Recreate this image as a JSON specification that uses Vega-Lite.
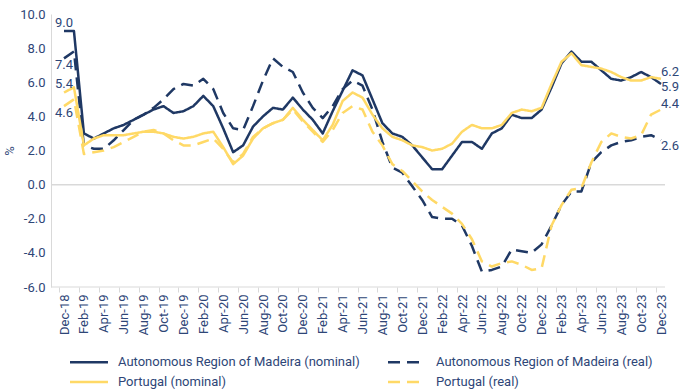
{
  "$schema": "https://vega.github.io/schema/vega-lite/v6.json",
  "width": 614,
  "height": 273,
  "autosize": {"type": "none"},
  "padding": {"left": 51, "top": 14, "right": 15, "bottom": 102},
  "background": "#ffffff",
  "config": {
    "view": {"stroke": null},
    "font": "Roboto",
    "axis": {
      "labelFont": "Roboto",
      "titleFont": "Roboto",
      "labelColor": "#2e4677",
      "titleColor": "#2e4677",
      "labelFontSize": 13,
      "domainColor": "#d9d9d9",
      "tickColor": "#d9d9d9"
    },
    "axisY": {"labelOverlap": false},
    "legend": {
      "orient": "none",
      "legendX": 17.5,
      "legendY": 340.5,
      "direction": "horizontal",
      "columns": 2,
      "symbolType": "M-1,0H5.33",
      "symbolSize": 144,
      "symbolStrokeWidth": 2.5,
      "labelOffset": 34.5,
      "labelFont": "Roboto",
      "labelFontSize": 13,
      "labelColor": "#2e4677",
      "labelLimit": 400,
      "columnPadding": 22,
      "rowPadding": 5,
      "padding": 0
    }
  },
  "layer": [
    {
      "data": {"values": [{}]},
      "mark": {"type": "rule", "color": "#d9d9d9", "strokeWidth": 1.5},
      "encoding": {
        "y": {
          "datum": 0,
          "type": "quantitative",
          "scale": {"domain": [-6, 10], "nice": false, "zero": false},
          "axis": {
            "title": "%",
            "titleFontSize": 13,
            "titleFontWeight": "normal",
            "titlePadding": 3,
            "values": [-6, -4, -2, 0, 2, 4, 6, 8, 10],
            "labelOverlap": false,
            "labelExpr": "replace(format(datum.value, '.1f'), '\u2212', '-')",
            "ticks": false,
            "tickSize": 0,
            "labelPadding": 6,
            "grid": false
          }
        }
      }
    },
    {
      "data": {"values": [{}]},
      "mark": {"type": "rule", "color": "#d9d9d9", "strokeWidth": 1},
      "encoding": {
        "y": {
          "datum": -6,
          "type": "quantitative",
          "axis": {
            "title": "%",
            "titleFontSize": 13,
            "titleFontWeight": "normal",
            "titlePadding": 3,
            "values": [-6, -4, -2, 0, 2, 4, 6, 8, 10],
            "labelOverlap": false,
            "labelExpr": "replace(format(datum.value, '.1f'), '\u2212', '-')",
            "ticks": false,
            "tickSize": 0,
            "labelPadding": 6,
            "grid": false
          }
        }
      }
    },
    {
      "data": {
        "values": [
          {"d": "2018-12", "mn": 9.0, "mr": 7.4, "pn": 5.4, "pr": 4.6},
          {"d": "2019-01", "mn": 9.0, "mr": 7.8, "pn": 5.7, "pr": 5.0},
          {"d": "2019-02", "mn": 3.0, "mr": 2.3, "pn": 2.3, "pr": 1.8},
          {"d": "2019-03", "mn": 2.7, "mr": 2.1, "pn": 2.7, "pr": 1.9},
          {"d": "2019-04", "mn": 3.0, "mr": 2.1, "pn": 2.9, "pr": 2.0},
          {"d": "2019-05", "mn": 3.3, "mr": 2.6, "pn": 2.9, "pr": 2.2},
          {"d": "2019-06", "mn": 3.5, "mr": 3.2, "pn": 2.9, "pr": 2.5},
          {"d": "2019-07", "mn": 3.8, "mr": 3.8, "pn": 3.0, "pr": 2.8},
          {"d": "2019-08", "mn": 4.1, "mr": 4.1, "pn": 3.1, "pr": 3.1},
          {"d": "2019-09", "mn": 4.4, "mr": 4.5, "pn": 3.1, "pr": 3.2},
          {"d": "2019-10", "mn": 4.6, "mr": 5.0, "pn": 3.0, "pr": 3.0},
          {"d": "2019-11", "mn": 4.2, "mr": 5.6, "pn": 2.8, "pr": 2.6},
          {"d": "2019-12", "mn": 4.3, "mr": 5.9, "pn": 2.7, "pr": 2.3},
          {"d": "2020-01", "mn": 4.6, "mr": 5.8, "pn": 2.8, "pr": 2.3},
          {"d": "2020-02", "mn": 5.2, "mr": 6.2, "pn": 3.0, "pr": 2.5},
          {"d": "2020-03", "mn": 4.6, "mr": 5.6, "pn": 3.1, "pr": 2.7},
          {"d": "2020-04", "mn": 3.3, "mr": 4.2, "pn": 2.2, "pr": 2.1},
          {"d": "2020-05", "mn": 1.9, "mr": 3.3, "pn": 1.2, "pr": 1.3},
          {"d": "2020-06", "mn": 2.3, "mr": 3.2, "pn": 1.7, "pr": 1.8},
          {"d": "2020-07", "mn": 3.4, "mr": 4.6, "pn": 2.7, "pr": 2.8},
          {"d": "2020-08", "mn": 4.0, "mr": 6.1, "pn": 3.3, "pr": 3.3},
          {"d": "2020-09", "mn": 4.5, "mr": 7.4, "pn": 3.6, "pr": 3.6},
          {"d": "2020-10", "mn": 4.4, "mr": 6.9, "pn": 3.8, "pr": 3.8},
          {"d": "2020-11", "mn": 5.1, "mr": 6.6, "pn": 4.5, "pr": 4.4},
          {"d": "2020-12", "mn": 4.4, "mr": 5.4, "pn": 3.8, "pr": 3.7},
          {"d": "2021-01", "mn": 3.8, "mr": 4.5, "pn": 3.2, "pr": 3.1},
          {"d": "2021-02", "mn": 3.0, "mr": 3.9, "pn": 2.6, "pr": 2.5},
          {"d": "2021-03", "mn": 4.3, "mr": 4.6, "pn": 3.5, "pr": 3.2},
          {"d": "2021-04", "mn": 5.5, "mr": 5.6, "pn": 4.9, "pr": 4.2},
          {"d": "2021-05", "mn": 6.7, "mr": 6.1, "pn": 5.4, "pr": 4.6},
          {"d": "2021-06", "mn": 6.4, "mr": 5.8, "pn": 5.1, "pr": 4.4},
          {"d": "2021-07", "mn": 5.0, "mr": 4.4, "pn": 4.1, "pr": 3.1},
          {"d": "2021-08", "mn": 3.6, "mr": 2.5, "pn": 3.3, "pr": 2.3},
          {"d": "2021-09", "mn": 3.0, "mr": 1.0, "pn": 2.8, "pr": 1.2},
          {"d": "2021-10", "mn": 2.8, "mr": 0.7, "pn": 2.6, "pr": 0.8},
          {"d": "2021-11", "mn": 2.3, "mr": -0.1, "pn": 2.3, "pr": 0.2},
          {"d": "2021-12", "mn": 1.6, "mr": -0.9, "pn": 2.2, "pr": -0.4},
          {"d": "2022-01", "mn": 0.9, "mr": -1.9, "pn": 2.0, "pr": -0.9},
          {"d": "2022-02", "mn": 0.9, "mr": -2.0, "pn": 2.1, "pr": -1.3},
          {"d": "2022-03", "mn": 1.7, "mr": -2.0, "pn": 2.4, "pr": -1.7},
          {"d": "2022-04", "mn": 2.5, "mr": -2.4, "pn": 3.1, "pr": -2.3},
          {"d": "2022-05", "mn": 2.5, "mr": -3.6, "pn": 3.5, "pr": -3.2},
          {"d": "2022-06", "mn": 2.1, "mr": -5.1, "pn": 3.3, "pr": -4.5},
          {"d": "2022-07", "mn": 3.0, "mr": -5.0, "pn": 3.3, "pr": -4.8},
          {"d": "2022-08", "mn": 3.3, "mr": -4.8, "pn": 3.5, "pr": -4.6},
          {"d": "2022-09", "mn": 4.1, "mr": -3.8, "pn": 4.2, "pr": -4.5},
          {"d": "2022-10", "mn": 3.9, "mr": -3.9, "pn": 4.4, "pr": -4.7},
          {"d": "2022-11", "mn": 3.9, "mr": -4.0, "pn": 4.3, "pr": -5.0},
          {"d": "2022-12", "mn": 4.4, "mr": -3.5, "pn": 4.5, "pr": -4.9},
          {"d": "2023-01", "mn": 5.7, "mr": -2.4, "pn": 5.9, "pr": -2.4},
          {"d": "2023-02", "mn": 7.1, "mr": -1.2, "pn": 7.2, "pr": -1.2},
          {"d": "2023-03", "mn": 7.8, "mr": -0.4, "pn": 7.7, "pr": -0.3},
          {"d": "2023-04", "mn": 7.2, "mr": -0.4, "pn": 7.0, "pr": -0.2},
          {"d": "2023-05", "mn": 7.2, "mr": 1.3, "pn": 6.9, "pr": 1.3},
          {"d": "2023-06", "mn": 6.7, "mr": 1.9, "pn": 6.8, "pr": 2.5},
          {"d": "2023-07", "mn": 6.2, "mr": 2.3, "pn": 6.6, "pr": 3.0},
          {"d": "2023-08", "mn": 6.1, "mr": 2.5, "pn": 6.3, "pr": 2.8},
          {"d": "2023-09", "mn": 6.3, "mr": 2.6, "pn": 6.1, "pr": 2.7},
          {"d": "2023-10", "mn": 6.6, "mr": 2.8, "pn": 6.1, "pr": 2.9},
          {"d": "2023-11", "mn": 6.3, "mr": 2.9, "pn": 6.3, "pr": 4.1},
          {"d": "2023-12", "mn": 5.9, "mr": 2.6, "pn": 6.2, "pr": 4.4}
        ]
      },
      "transform": [{"fold": ["mn", "mr", "pn", "pr"], "as": ["series", "value"]}],
      "encoding": {
        "x": {
          "field": "d",
          "type": "ordinal",
          "scale": {"type": "point", "range": [13, 610], "padding": 0},
          "axis": {
            "title": null,
            "domain": false,
            "labelAngle": -90,
            "labelOverlap": false,
            "labelExpr": "toNumber(slice(datum.value, 5)) % 2 == 0 ? ['Jan','Feb','Mar','Apr','May','Jun','Jul','Aug','Sep','Oct','Nov','Dec'][toNumber(slice(datum.value, 5)) - 1] + '-' + slice(datum.value, 2, 4) : ''",
            "tickOffset": -5,
            "labelOffset": 5,
            "tickSize": 5,
            "labelPadding": 2,
            "tickOpacity": {"condition": {"test": "toNumber(slice(datum.value, 5)) % 2 == 0", "value": 1}, "value": 0}
          }
        },
        "y": {
          "field": "value",
          "type": "quantitative",
          "scale": {"domain": [-6, 10], "nice": false, "zero": false},
          "axis": {
            "title": "%",
            "titleFontSize": 13,
            "titleFontWeight": "normal",
            "titlePadding": 3,
            "values": [-6, -4, -2, 0, 2, 4, 6, 8, 10],
            "labelOverlap": false,
            "labelExpr": "replace(format(datum.value, '.1f'), '\u2212', '-')",
            "ticks": false,
            "tickSize": 0,
            "labelPadding": 6,
            "grid": false
          }
        }
      },
      "layer": [
        {
          "mark": {"type": "line", "strokeWidth": 2.5, "strokeJoin": "round", "strokeCap": "butt"},
          "encoding": {
            "color": {
              "field": "series",
              "type": "nominal",
              "title": null,
              "scale": {"domain": ["mn", "mr", "pn", "pr"], "range": ["#1f3864", "#1f3864", "#ffd966", "#ffd966"]},
              "legend": {"labelExpr": "datum.value == 'mn' ? 'Autonomous Region of Madeira (nominal)' : datum.value == 'mr' ? 'Autonomous Region of Madeira (real)' : datum.value == 'pn' ? 'Portugal (nominal)' : 'Portugal (real)'"}
            },
            "strokeDash": {
              "field": "series",
              "type": "nominal",
              "title": null,
              "scale": {"domain": ["mn", "mr", "pn", "pr"], "range": [[1, 0], [12, 7], [1, 0], [12, 7]]},
              "legend": {"labelExpr": "datum.value == 'mn' ? 'Autonomous Region of Madeira (nominal)' : datum.value == 'mr' ? 'Autonomous Region of Madeira (real)' : datum.value == 'pn' ? 'Portugal (nominal)' : 'Portugal (real)'"}
            }
          }
        },
        {
          "transform": [{"filter": "datum.d == '2018-12' && (datum.series == 'mn' || datum.series == 'pn')"}],
          "mark": {"type": "text", "font": "Roboto", "fontSize": 13, "color": "#2e4677", "align": "center", "baseline": "middle", "dy": -8},
          "encoding": {"text": {"field": "value", "type": "quantitative", "format": ".1f"}}
        },
        {
          "transform": [{"filter": "datum.d == '2018-12' && (datum.series == 'mr' || datum.series == 'pr')"}],
          "mark": {"type": "text", "font": "Roboto", "fontSize": 13, "color": "#2e4677", "align": "center", "baseline": "middle", "dy": 7},
          "encoding": {"text": {"field": "value", "type": "quantitative", "format": ".1f"}}
        },
        {
          "transform": [{"filter": "datum.d == '2023-12' && datum.series == 'pn'"}],
          "mark": {"type": "text", "font": "Roboto", "fontSize": 13, "color": "#2e4677", "align": "left", "baseline": "middle", "dy": -7},
          "encoding": {"text": {"field": "value", "type": "quantitative", "format": ".1f"}}
        },
        {
          "transform": [{"filter": "datum.d == '2023-12' && datum.series == 'mn'"}],
          "mark": {"type": "text", "font": "Roboto", "fontSize": 13, "color": "#2e4677", "align": "left", "baseline": "middle", "dy": 3},
          "encoding": {"text": {"field": "value", "type": "quantitative", "format": ".1f"}}
        },
        {
          "transform": [{"filter": "datum.d == '2023-12' && datum.series == 'pr'"}],
          "mark": {"type": "text", "font": "Roboto", "fontSize": 13, "color": "#2e4677", "align": "left", "baseline": "middle", "dy": -6},
          "encoding": {"text": {"field": "value", "type": "quantitative", "format": ".1f"}}
        },
        {
          "transform": [{"filter": "datum.d == '2023-12' && datum.series == 'mr'"}],
          "mark": {"type": "text", "font": "Roboto", "fontSize": 13, "color": "#2e4677", "align": "left", "baseline": "middle", "dy": 6},
          "encoding": {"text": {"field": "value", "type": "quantitative", "format": ".1f"}}
        }
      ]
    }
  ]
}
